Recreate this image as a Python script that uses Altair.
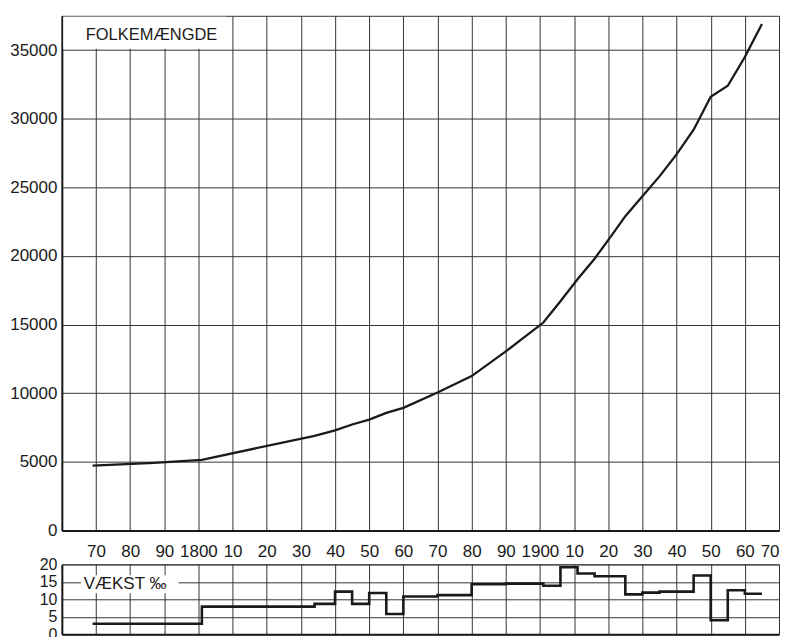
import altair as alt
import pandas as pd

# ---- data ----
pop_years = [1769, 1787, 1801, 1834, 1840, 1845, 1850, 1855, 1860, 1870, 1880, 1890,
             1901, 1906, 1911, 1916, 1921, 1925, 1930, 1935, 1940, 1945, 1950, 1955,
             1960, 1965]
pop_values = [4730, 4930, 5150, 6900, 7300, 7720, 8080, 8570, 8930, 10050, 11250, 13050,
              15150, 16700, 18300, 19800, 21500, 22900, 24350, 25800, 27400, 29200, 31600,
              32400, 34500, 36900]

growth_years = [1769, 1801, 1834, 1840, 1845, 1850, 1855, 1860, 1870, 1880, 1890, 1901,
                1906, 1911, 1916, 1925, 1930, 1935, 1945, 1950, 1955, 1960, 1965]
growth_values = [3.0, 7.9, 8.7, 12.2, 8.7, 11.8, 5.8, 10.8, 11.2, 14.3, 14.5, 13.9,
                 19.2, 17.4, 16.6, 11.4, 11.9, 12.2, 16.8, 4.0, 12.6, 11.6, 11.6]

decade_ticks = list(range(1770, 1971, 10))
pop_ticks = list(range(0, 35001, 5000))
growth_ticks = [0, 5, 10, 15, 20]
pop_label = "FOLKEMÆNGDE"
growth_label = "VÆKST ‰"

FONT = "Liberation Sans"
INK = "#1a1a1a"
GRID = "#353535"

pop_df = pd.DataFrame({"year": pop_years, "pop": pop_values})
gr_df = pd.DataFrame({"year": growth_years, "g": growth_values})

xscale = alt.Scale(domain=[1760, 1970], nice=False, zero=False)

common_y = dict(title=None, tickSize=0, labelPadding=5, labelFont=FONT, labelColor=INK,
                domainColor=INK, domainWidth=2, gridColor=GRID, gridWidth=1,
                minExtent=53, maxExtent=53, labelOverlap=False, format="d")

# ---- top panel ----
top_line = alt.Chart(pop_df).mark_line(color=INK, strokeWidth=2.3).encode(
    x=alt.X("year:Q", scale=xscale,
            axis=alt.Axis(values=decade_ticks, title=None, tickSize=0, labelPadding=13,
                          labelFont=FONT, labelFontSize=17, labelColor=INK,
                          labelExpr="datum.value % 100 == 0 ? '' + datum.value : '' + (datum.value % 100)",
                          labelOverlap=False, domainColor=INK, domainWidth=2,
                          gridColor=GRID, gridWidth=1)),
    y=alt.Y("pop:Q", scale=alt.Scale(domain=[0, 37500], nice=False),
            axis=alt.Axis(values=pop_ticks, labelFontSize=17, **common_y)),
)

lab_df = pd.DataFrame({"label": [pop_label]})
top_box = alt.Chart(lab_df).mark_rect(color="white").encode(
    x=alt.value(1.5), x2=alt.value(165), y=alt.value(1), y2=alt.value(33))
top_text = alt.Chart(lab_df).mark_text(align="left", baseline="middle", font=FONT,
                                       fontSize=16.5, color=INK).encode(
    text="label:N", x=alt.value(24), y=alt.value(19))

top = alt.layer(top_line, top_box, top_text).properties(width=719, height=516)

# ---- bottom panel ----
bot_line = alt.Chart(gr_df).mark_line(color=INK, strokeWidth=2.6, interpolate="step-after").encode(
    x=alt.X("year:Q", scale=xscale,
            axis=alt.Axis(values=decade_ticks, title=None, labels=False, ticks=False,
                          domainColor=INK, domainWidth=2, gridColor=GRID, gridWidth=1)),
    y=alt.Y("g:Q", scale=alt.Scale(domain=[0, 20], nice=False),
            axis=alt.Axis(values=growth_ticks, labelFontSize=16, **common_y)),
)
glab_df = pd.DataFrame({"label": [growth_label]})
bot_box = alt.Chart(glab_df).mark_rect(color="white").encode(
    x=alt.value(19), x2=alt.value(117), y=alt.value(11), y2=alt.value(29))
bot_text = alt.Chart(glab_df).mark_text(align="left", baseline="middle", font=FONT,
                                        fontSize=17, color=INK).encode(
    text="label:N", x=alt.value(22), y=alt.value(20))

bottom = alt.layer(bot_line, bot_box, bot_text).properties(width=719, height=70)

chart = alt.vconcat(top, bottom, spacing=34, bounds="flush").properties(
    padding={"left": 0, "top": 6, "right": 0, "bottom": 0},
    background="white",
).configure_view(stroke=GRID, strokeWidth=1)

chart.save("out.html", embed_options={"renderer": "svg", "actions": False})
